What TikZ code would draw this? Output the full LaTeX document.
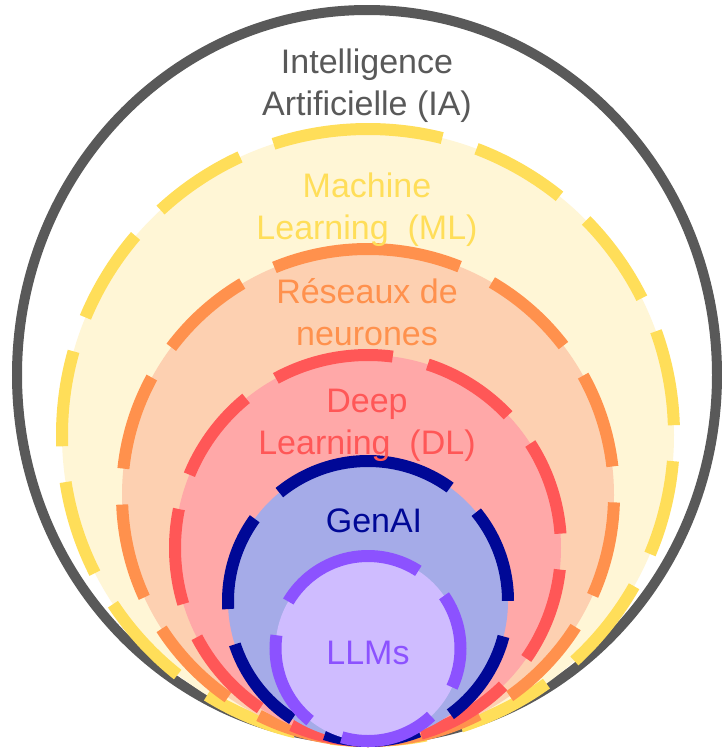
\documentclass[tikz,border=0pt]{standalone}
\usepackage{fontspec}
\setmainfont{Liberation Sans}
\definecolor{cia}{RGB}{89,89,89}
\definecolor{cml}{RGB}{255,222,89}
\definecolor{cmlf}{RGB}{255,246,214}
\definecolor{cnn}{RGB}{255,145,77}
\definecolor{cnnf}{RGB}{253,208,177}
\definecolor{cdl}{RGB}{255,87,87}
\definecolor{cdlf}{RGB}{255,168,168}
\definecolor{cga}{RGB}{0,8,150}
\definecolor{cgaf}{RGB}{165,171,232}
\definecolor{cll}{RGB}{140,82,255}
\definecolor{cllf}{RGB}{207,188,255}

\begin{document}
\begin{tikzpicture}[x=1pt,y=-1pt,
  ring/.style={line width=12pt,dash pattern=on 96pt off 36pt},
  lbl/.style={align=center,inner sep=0pt,font=\fontsize{34}{42}\selectfont}
]
\useasboundingbox (0,0) rectangle (722,748);
\fill[white] (0,0) rectangle (722,748);
% outer field
\draw[cia,line width=10pt,fill=white] (367,375) ellipse [x radius=350,y radius=365];
% nested rings, outer to inner
\draw[ring,cml,fill=cmlf] (368,129) arc[start angle=270,end angle=-90,radius=306];
\draw[ring,cnn,fill=cnnf] (368,249) arc[start angle=270,end angle=-90,radius=246];
\draw[ring,cdl,fill=cdlf] (368,355) arc[start angle=270,end angle=-90,radius=193];
\draw[ring,cga,fill=cgaf] (368,461) arc[start angle=270,end angle=-90,radius=140];
\draw[ring,cll,fill=cllf] (368,556) arc[start angle=270,end angle=-90,radius=92.5];
% labels (base = last line)
\node[lbl,text=cia,anchor=base] (ia) at (367,115) {Intelligence\\Artificielle (IA)};
\node[lbl,text=cml,anchor=base] (ml) at (367,239) {Machine\\Learning\ \ (ML)};
\node[lbl,text=cnn,anchor=base] (nn) at (367,345) {Réseaux de\\neurones};
\node[lbl,text=cdl,anchor=base] (dl) at (367,454) {Deep\\Learning\ \ (DL)};
\node[lbl,text=cga,anchor=base] (ga) at (374,532) {GenAI};
\node[lbl,text=cll,anchor=base] (ll) at (368,664) {LLMs};
\end{tikzpicture}
\end{document}
